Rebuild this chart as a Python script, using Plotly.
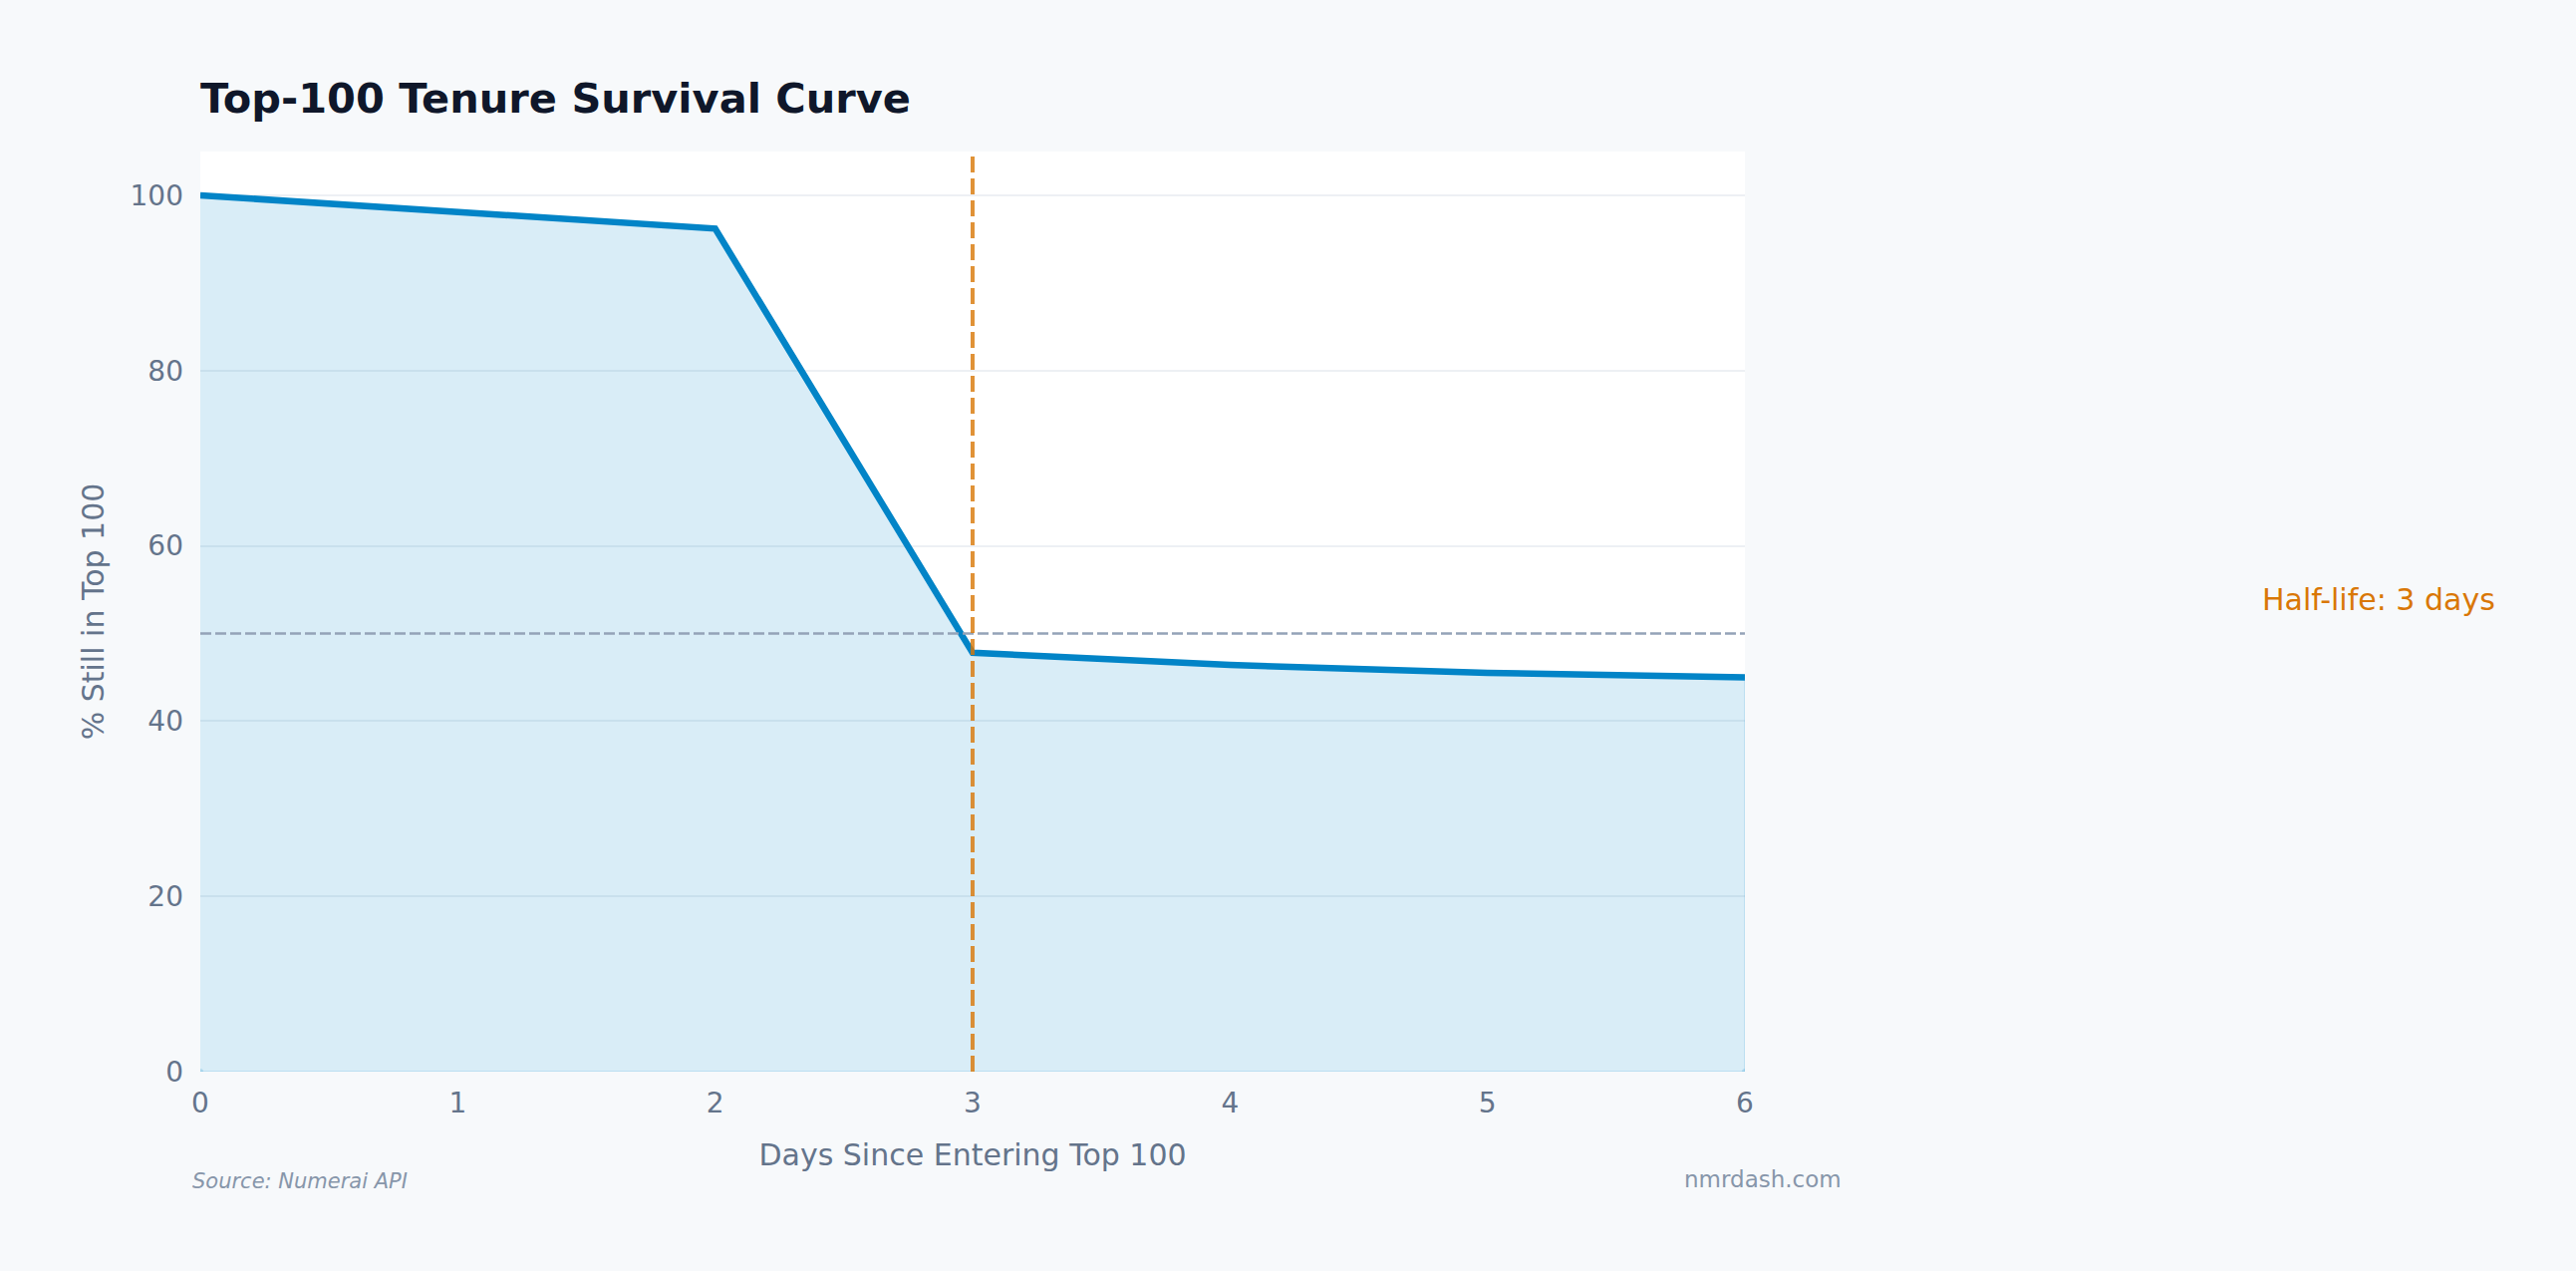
import plotly.graph_objects as go

# survival data
days = [0, 1, 2, 3, 4, 5, 6]
pct_still_in = [100.0, 98.1, 96.2, 47.8, 46.4, 45.5, 45.0]
half_life_day = 3
half_line_pct = 50

FONT = "DejaVu Sans"
LINE_BLUE = "#0284c7"
ORANGE = "#d97706"
SLATE = "#64748b"

fig = go.Figure()

# shaded area under the curve (closed down to zero)
fig.add_trace(go.Scatter(
    x=days + [days[-1], days[0]],
    y=pct_still_in + [0, 0],
    fill="toself",
    fillcolor="rgba(2,132,199,0.15)",
    line=dict(color="rgba(2,132,199,0.18)", width=1.5),
    hoverinfo="skip", showlegend=False,
))

fig.add_trace(go.Scatter(
    x=days, y=pct_still_in, mode="lines",
    line=dict(color=LINE_BLUE, width=6.5),
    name="Survival", showlegend=False,
))

# 50% reference + half-life marker
fig.add_hline(y=half_line_pct, line=dict(color="#94a3b8", width=2.5, dash="11px,4px"))
fig.add_vline(x=half_life_day, line=dict(color=ORANGE, width=4, dash="16px,6px"), opacity=0.8)

fig.add_annotation(text=f"Half-life: {half_life_day} days", xref="paper", yref="paper",
                   x=1.41, y=0.5125, xanchor="center", yanchor="middle", showarrow=False,
                   font=dict(family=FONT, size=30, color=ORANGE))

# footer
fig.add_annotation(text="<i>Source: Numerai API</i>", xref="paper", yref="paper",
                   x=-0.0065, y=-0.119, xanchor="left", yanchor="middle", showarrow=False,
                   font=dict(family=FONT, size=21, color="#8796aa"))
fig.add_annotation(text="nmrdash.com", xref="paper", yref="paper",
                   x=1.064, y=-0.117, xanchor="right", yanchor="middle", showarrow=False,
                   font=dict(family=FONT, size=23, color="#8796aa"))

fig.update_layout(
    width=2585, height=1275,
    paper_bgcolor="#f7f9fb", plot_bgcolor="#ffffff",
    margin=dict(l=201, r=834, t=152, b=200),
    font=dict(family=FONT, color=SLATE, size=28),
    title=dict(text="<b>Top-100 Tenure Survival Curve</b>",
               x=201 / 2585, xanchor="left", y=1 - 98 / 1275, yanchor="middle",
               font=dict(family=FONT, size=41.5, color="#0f172a")),
    showlegend=False,
)

fig.update_xaxes(range=[0, 6], dtick=1, showgrid=False, zeroline=False,
                 tickfont=dict(size=28, color=SLATE), ticks="", ticklabelstandoff=12,
                 title=dict(text="Days Since Entering Top 100", font=dict(size=30, color=SLATE), standoff=25))
fig.update_yaxes(range=[0, 105], dtick=20, gridcolor="#edf0f4", gridwidth=1.5, zeroline=False,
                 tickfont=dict(size=28, color=SLATE), ticks="", ticklabelstandoff=16,
                 title=dict(text="% Still in Top 100", font=dict(size=30, color=SLATE), standoff=17))

# page with no body margin so the paper reaches the window edge
fig.write_html("out.html", config={"displayModeBar": False},
               post_script="document.body.style.margin='0';")
